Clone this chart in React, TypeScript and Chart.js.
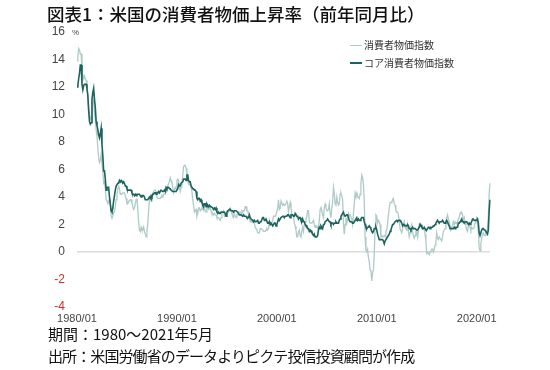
import React, { useEffect, useRef } from "react";
import { Chart, registerables } from "chart.js";

Chart.register(...registerables);

const title = "図表1：米国の消費者物価上昇率（前年同月比）";
const footPeriod = "期間：1980～2021年5月";
const footSource = "出所：米国労働省のデータよりピクテ投信投資顧問が作成";
const seriesNames = ["消費者物価指数", "コア消費者物価指数"];

const startYear = 1980;
const endYear = 2021;
const endMonth = 5;
const xTickLabels = ["1980/01", "1990/01", "2000/01", "2010/01", "2020/01"];
const yTicks = [-4, -2, 0, 2, 4, 6, 8, 10, 12, 14, 16];

// 消費者物価指数 (前年同月比, %) 1980/01 - 2021/05
const cpi: number[] = [
  13.9, 14.2, 14.8, 14.7, 14.4, 14.4, 13.1, 12.9, 12.6, 12.8, 12.6, 12.5,
  11.8, 11.4, 10.5, 10.0, 9.8, 9.6, 10.8, 10.8, 11.0, 10.1, 9.6, 8.9,
  8.4, 7.6, 6.8, 6.5, 6.7, 7.1, 6.4, 5.9, 5.0, 5.1, 4.6, 3.8,
  3.7, 3.5, 3.6, 3.9, 3.5, 2.6, 2.5, 2.6, 2.9, 2.9, 3.3, 3.8,
  4.2, 4.6, 4.8, 4.6, 4.2, 4.2, 4.2, 4.3, 4.3, 4.3, 4.1, 3.9,
  3.5, 3.5, 3.7, 3.7, 3.8, 3.8, 3.6, 3.3, 3.1, 3.2, 3.5, 3.8,
  3.9, 3.1, 2.2, 1.6, 1.5, 1.8, 1.6, 1.6, 1.8, 1.5, 1.3, 1.1,
  1.5, 2.1, 3.0, 3.8, 3.9, 3.7, 3.9, 4.3, 4.4, 4.5, 4.5, 4.4,
  4.0, 3.9, 3.9, 3.9, 3.9, 4.0, 4.1, 4.0, 4.2, 4.2, 4.2, 4.4,
  4.7, 4.8, 5.0, 5.1, 5.4, 5.2, 5.0, 4.7, 4.3, 4.5, 4.7, 4.6,
  5.2, 5.3, 5.2, 4.7, 4.4, 4.7, 4.8, 5.6, 6.2, 6.3, 6.3, 6.1,
  5.7, 5.3, 4.9, 4.9, 5.0, 4.7, 4.4, 3.8, 3.4, 2.9, 3.0, 3.1,
  2.6, 2.8, 3.2, 3.2, 3.0, 3.1, 3.2, 3.1, 3.0, 3.2, 3.0, 2.9,
  3.3, 3.2, 3.1, 3.2, 3.2, 3.0, 2.8, 2.8, 2.7, 2.8, 2.7, 2.7,
  2.5, 2.5, 2.5, 2.4, 2.3, 2.5, 2.8, 2.9, 3.0, 2.6, 2.7, 2.7,
  2.8, 2.9, 2.9, 3.1, 3.2, 3.0, 2.8, 2.6, 2.5, 2.8, 2.6, 2.5,
  2.7, 2.7, 2.8, 2.9, 2.9, 2.8, 3.0, 2.9, 3.0, 3.0, 3.3, 3.3,
  3.0, 3.0, 2.8, 2.5, 2.2, 2.3, 2.2, 2.2, 2.2, 2.1, 1.8, 1.7,
  1.6, 1.4, 1.4, 1.4, 1.7, 1.7, 1.7, 1.6, 1.5, 1.5, 1.5, 1.6,
  1.7, 1.6, 1.7, 2.3, 2.1, 2.0, 2.1, 2.3, 2.6, 2.6, 2.6, 2.7,
  2.7, 3.2, 3.8, 3.1, 3.2, 3.7, 3.7, 3.4, 3.5, 3.4, 3.4, 3.4,
  3.7, 3.5, 2.9, 3.3, 3.6, 3.2, 2.7, 2.7, 2.6, 2.1, 1.9, 1.6,
  1.1, 1.1, 1.5, 1.6, 1.2, 1.1, 1.5, 1.8, 1.5, 2.0, 2.2, 2.4,
  2.6, 3.0, 3.0, 2.2, 2.1, 2.1, 2.1, 2.2, 2.3, 2.0, 1.8, 1.9,
  1.9, 1.7, 1.7, 2.3, 3.1, 3.3, 3.0, 2.7, 2.5, 3.2, 3.5, 3.3,
  3.0, 3.0, 3.1, 3.5, 2.8, 2.5, 3.2, 3.6, 4.7, 4.3, 3.5, 3.4,
  4.0, 3.6, 3.4, 3.5, 4.2, 4.3, 4.1, 3.8, 2.1, 1.3, 2.0, 2.5,
  2.1, 2.4, 2.8, 2.6, 2.7, 2.7, 2.4, 2.0, 2.8, 3.5, 4.3, 4.1,
  4.3, 4.0, 4.0, 3.9, 4.2, 5.0, 5.6, 5.4, 4.9, 3.7, 1.1, 0.1,
  0.0, 0.2, -0.4, -0.7, -1.3, -1.4, -2.1, -1.5, -1.3, -0.2, 1.8, 2.7,
  2.6, 2.1, 2.3, 2.2, 2.0, 1.1, 1.2, 1.1, 1.1, 1.2, 1.1, 1.5,
  1.6, 2.1, 2.7, 3.2, 3.6, 3.6, 3.6, 3.8, 3.9, 3.5, 3.4, 3.0,
  2.9, 2.9, 2.7, 2.3, 1.7, 1.7, 1.4, 1.7, 2.0, 2.2, 1.8, 1.7,
  1.6, 2.0, 1.5, 1.1, 1.4, 1.8, 2.0, 1.5, 1.2, 1.0, 1.2, 1.5,
  1.6, 1.1, 1.5, 2.0, 2.1, 2.1, 2.0, 1.7, 1.7, 1.7, 1.3, 0.8,
  -0.1, 0.0, -0.1, -0.2, 0.0, 0.1, 0.2, 0.2, 0.0, 0.2, 0.5, 0.7,
  1.4, 1.0, 0.9, 1.1, 1.0, 1.0, 0.8, 1.1, 1.5, 1.6, 1.7, 2.1,
  2.5, 2.7, 2.4, 2.2, 1.9, 1.6, 1.7, 1.9, 2.2, 2.0, 2.2, 2.1,
  2.1, 2.2, 2.4, 2.5, 2.8, 2.9, 2.9, 2.7, 2.3, 2.5, 2.2, 1.9,
  1.6, 1.5, 1.9, 2.0, 1.8, 1.6, 1.8, 1.7, 1.7, 1.8, 2.1, 2.3,
  2.5, 2.3, 1.5, 0.3, 0.1, 0.6, 1.0, 1.3, 1.4, 1.2, 1.2, 1.4,
  1.4, 1.7, 2.6, 4.2, 5.0,
];

// コア消費者物価指数 (前年同月比, %) 1980/01 - 2021/05
const coreCpi: number[] = [
  12.0, 12.1, 12.6, 13.0, 13.6, 13.6, 12.2, 11.8, 12.1, 12.2, 12.2, 12.2,
  11.9, 11.4, 10.3, 9.5, 9.3, 9.4, 11.1, 11.6, 11.9, 11.1, 10.5, 9.5,
  9.2, 8.9, 8.5, 8.3, 8.6, 9.0, 7.8, 7.0, 5.9, 5.9, 5.3, 4.5,
  4.7, 4.7, 4.7, 4.0, 3.5, 3.0, 2.9, 3.2, 3.7, 4.1, 4.5, 4.8,
  4.8, 5.0, 5.0, 5.2, 5.1, 5.2, 5.1, 5.0, 5.1, 5.0, 4.8, 4.8,
  4.6, 4.5, 4.5, 4.5, 4.5, 4.5, 4.3, 4.2, 4.2, 4.1, 4.2, 4.1,
  4.2, 4.2, 4.2, 4.2, 4.1, 4.0, 4.1, 4.1, 4.1, 4.0, 3.8, 3.8,
  3.8, 3.8, 3.9, 4.0, 3.9, 4.1, 4.0, 4.2, 4.2, 4.3, 4.3, 4.2,
  4.3, 4.3, 4.4, 4.3, 4.4, 4.5, 4.5, 4.4, 4.4, 4.5, 4.4, 4.7,
  4.6, 4.7, 4.7, 4.6, 4.6, 4.5, 4.5, 4.4, 4.4, 4.4, 4.4, 4.4,
  4.4, 4.6, 4.9, 4.8, 4.8, 5.0, 5.0, 5.1, 5.3, 5.3, 5.3, 5.2,
  5.6, 5.6, 5.2, 5.1, 5.1, 4.8, 4.8, 4.6, 4.6, 4.5, 4.5, 4.4,
  3.9, 3.8, 3.9, 3.9, 3.7, 3.8, 3.6, 3.5, 3.3, 3.5, 3.5, 3.3,
  3.5, 3.4, 3.3, 3.4, 3.3, 3.3, 3.3, 3.2, 3.1, 3.2, 3.1, 3.2,
  2.9, 2.8, 2.9, 2.8, 2.8, 2.9, 2.9, 2.9, 2.9, 2.9, 2.8, 2.6,
  2.9, 3.0, 3.0, 3.1, 3.1, 3.0, 3.0, 3.0, 2.9, 3.0, 3.0, 3.0,
  3.0, 2.9, 2.8, 2.7, 2.7, 2.7, 2.7, 2.6, 2.7, 2.6, 2.6, 2.6,
  2.5, 2.5, 2.5, 2.7, 2.5, 2.4, 2.4, 2.3, 2.2, 2.3, 2.2, 2.2,
  2.2, 2.3, 2.1, 2.1, 2.2, 2.2, 2.2, 2.5, 2.5, 2.3, 2.3, 2.4,
  2.4, 2.1, 2.1, 2.2, 2.0, 2.1, 2.1, 1.9, 2.0, 2.1, 2.1, 1.9,
  2.0, 2.2, 2.4, 2.3, 2.4, 2.5, 2.5, 2.6, 2.6, 2.5, 2.6, 2.6,
  2.6, 2.7, 2.7, 2.6, 2.5, 2.7, 2.7, 2.7, 2.6, 2.6, 2.8, 2.7,
  2.6, 2.6, 2.4, 2.5, 2.5, 2.3, 2.2, 2.4, 2.2, 2.2, 2.0, 1.9,
  1.9, 1.7, 1.7, 1.5, 1.6, 1.5, 1.5, 1.3, 1.2, 1.3, 1.1, 1.1,
  1.1, 1.2, 1.6, 1.8, 1.7, 1.9, 1.8, 1.7, 2.0, 2.0, 2.2, 2.2,
  2.3, 2.4, 2.3, 2.2, 2.2, 2.0, 2.1, 2.1, 2.0, 2.1, 2.1, 2.2,
  2.1, 2.1, 2.1, 2.3, 2.4, 2.6, 2.7, 2.8, 2.9, 2.7, 2.6, 2.6,
  2.7, 2.7, 2.5, 2.3, 2.2, 2.2, 2.2, 2.1, 2.1, 2.2, 2.3, 2.4,
  2.5, 2.3, 2.4, 2.3, 2.3, 2.4, 2.5, 2.5, 2.5, 2.2, 2.0, 1.8,
  1.7, 1.8, 1.8, 1.9, 1.8, 1.7, 1.5, 1.4, 1.5, 1.7, 1.7, 1.8,
  1.6, 1.3, 1.1, 0.9, 0.9, 0.9, 0.9, 0.9, 0.8, 0.6, 0.8, 0.8,
  1.0, 1.1, 1.2, 1.3, 1.5, 1.6, 1.8, 2.0, 2.0, 2.1, 2.2, 2.2,
  2.3, 2.2, 2.3, 2.3, 2.3, 2.2, 2.1, 1.9, 2.0, 2.0, 1.9, 1.9,
  1.9, 2.0, 1.9, 1.7, 1.7, 1.6, 1.7, 1.8, 1.7, 1.7, 1.7, 1.7,
  1.6, 1.6, 1.7, 1.8, 2.0, 1.9, 1.9, 1.7, 1.7, 1.8, 1.7, 1.6,
  1.6, 1.7, 1.8, 1.8, 1.7, 1.8, 1.8, 1.8, 1.9, 1.9, 2.0, 2.1,
  2.2, 2.3, 2.2, 2.1, 2.2, 2.2, 2.2, 2.3, 2.2, 2.1, 2.1, 2.2,
  2.3, 2.2, 2.0, 1.9, 1.7, 1.7, 1.7, 1.7, 1.7, 1.8, 1.7, 1.8,
  1.8, 1.8, 2.1, 2.1, 2.2, 2.3, 2.4, 2.2, 2.2, 2.1, 2.2, 2.2,
  2.2, 2.1, 2.0, 2.1, 2.0, 2.1, 2.2, 2.4, 2.4, 2.3, 2.3, 2.3,
  2.3, 2.4, 2.1, 1.4, 1.2, 1.2, 1.6, 1.7, 1.7, 1.6, 1.6, 1.6,
  1.4, 1.3, 1.6, 3.0, 3.8,
];

const months: string[] = [];
for (let y = startYear; y <= endYear; y++) {
  const last = y === endYear ? endMonth : 12;
  for (let m = 1; m <= last; m++) {
    months.push(`${y}/${m < 10 ? "0" + m : m}`);
  }
}

const LIGHT = "#aecbc8";
const DARK = "#1c645d";
const TEXT = "#444444";
const JP = '"Noto Sans CJK JP", "Noto Sans", sans-serif';
const LAT = '"Liberation Sans", Arial, sans-serif';

export default function App() {
  const ref = useRef<HTMLCanvasElement | null>(null);

  useEffect(() => {
    if (!ref.current) return;
    const chart = new Chart(ref.current, {
      type: "line",
      data: {
        labels: months,
        datasets: [
          {
            label: seriesNames[1],
            data: coreCpi,
            borderColor: DARK,
            backgroundColor: DARK,
            borderWidth: 1.6,
            pointRadius: 0,
            tension: 0,
            order: 0,
          },
          {
            label: seriesNames[0],
            data: cpi,
            borderColor: LIGHT,
            backgroundColor: LIGHT,
            borderWidth: 1.3,
            pointRadius: 0,
            tension: 0,
            order: 1,
          },
        ],
      },
      options: {
        responsive: false,
        animation: false,
        devicePixelRatio: 1,
        layout: { padding: { top: 32, right: 60, bottom: 43, left: 0 } },
        plugins: {
          legend: { display: false },
          tooltip: { enabled: false },
          title: { display: false },
        },
        scales: {
          x: {
            type: "category",
            offset: false,
            grid: { display: false, drawTicks: false },
            border: { display: false },
            afterFit: (s: any) => {
              s.height = 20;
            },
            ticks: {
              autoSkip: false,
              maxRotation: 0,
              minRotation: 0,
              padding: 5,
              color: TEXT,
              font: { family: LAT, size: 11 },
              callback: function (this: any, _v: any, i: number) {
                const l = months[i];
                return xTickLabels.includes(l) ? l : null;
              },
            },
          },
          y: {
            type: "linear",
            min: yTicks[0],
            max: yTicks[yTicks.length - 1],
            afterFit: (s: any) => {
              s.width = 77;
            },
            afterBuildTicks: (s: any) => {
              s.ticks = yTicks.map((v) => ({ value: v }));
            },
            border: { display: false },
            grid: {
              drawTicks: false,
              color: (c: any) => (c.tick && c.tick.value === 0 ? "#dcdcdc" : "rgba(0,0,0,0)"),
              lineWidth: (c: any) => (c.tick && c.tick.value === 0 ? 1.5 : 0),
            },
            ticks: {
              padding: 12,
              color: (c: any) => (c.tick && c.tick.value < 0 ? "#c8312f" : TEXT),
              font: { family: LAT, size: 12 },
              callback: (v: any) => String(v),
            },
          },
        },
      },
    });
    return () => chart.destroy();
  }, []);

  return (
    <div
      style={{
        position: "absolute",
        left: 0,
        top: 0,
        width: 550,
        height: 370,
        background: "#ffffff",
        overflow: "hidden",
      }}
    >
      <canvas
        ref={ref}
        width={550}
        height={370}
        style={{ position: "absolute", left: 0, top: 0, width: 550, height: 370 }}
      />
      <div
        style={{
          position: "absolute",
          left: 47,
          top: 2,
          fontFamily: JP,
          fontSize: 17.5,
          lineHeight: "24px",
          fontWeight: 500,
          color: "#111",
          whiteSpace: "nowrap",
        }}
      >
        {title}
      </div>
      <div
        style={{
          position: "absolute",
          left: 72,
          top: 28,
          fontFamily: LAT,
          fontSize: 8,
          lineHeight: "10px",
          color: TEXT,
        }}
      >
        %
      </div>
      {[seriesNames[0], seriesNames[1]].map((name, i) => (
        <div
          key={name}
          style={{
            position: "absolute",
            left: 350,
            top: 38 + i * 18,
            height: 14,
            display: "flex",
            alignItems: "center",
            fontFamily: JP,
            fontSize: 10,
            lineHeight: "14px",
            color: "#333",
            whiteSpace: "nowrap",
          }}
        >
          <span
            style={{
              display: "inline-block",
              width: 12,
              height: i === 0 ? 1 : 2,
              background: i === 0 ? LIGHT : DARK,
              marginRight: 2,
            }}
          />
          {name}
        </div>
      ))}
      <div
        style={{
          position: "absolute",
          left: 48,
          top: 324,
          fontFamily: JP,
          fontSize: 15,
          lineHeight: "20px",
          color: "#111",
          whiteSpace: "nowrap",
        }}
      >
        {footPeriod}
      </div>
      <div
        style={{
          position: "absolute",
          left: 48,
          top: 346,
          fontFamily: JP,
          fontSize: 15,
          lineHeight: "20px",
          letterSpacing: "-0.9px",
          color: "#111",
          whiteSpace: "nowrap",
        }}
      >
        {footSource}
      </div>
    </div>
  );
}
